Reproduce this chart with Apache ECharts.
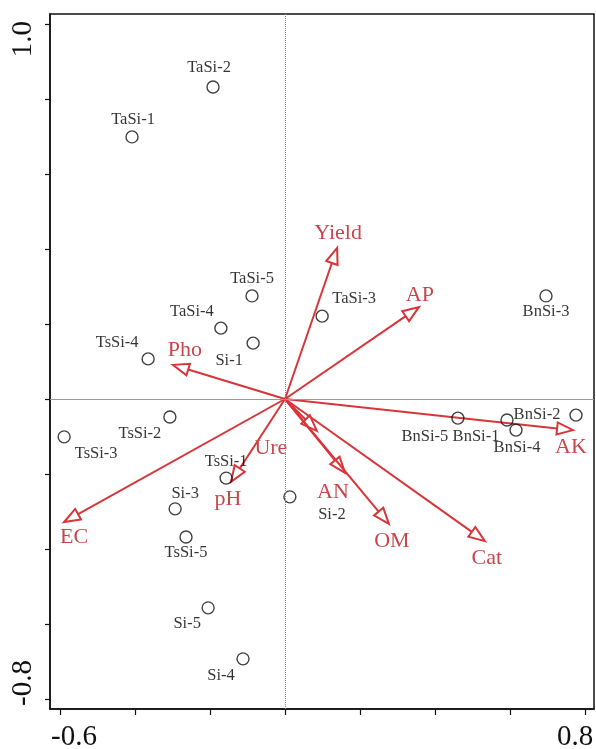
<!DOCTYPE html>
<html>
<head>
<meta charset="utf-8">
<script src="https://cdn.jsdelivr.net/npm/echarts@6/dist/echarts.min.js"></script>
<style>html,body{margin:0;padding:0;background:#fff;}#c{width:596px;height:749px;}</style>
</head>
<body>
<div id="c"></div>
<script>
// ---- data ----
const sampleNames = ['TaSi-1','TaSi-2','TaSi-3','TaSi-4','TaSi-5','TsSi-1','TsSi-2','TsSi-3','TsSi-4','TsSi-5','BnSi-1','BnSi-2','BnSi-3','BnSi-4','BnSi-5','Si-1','Si-2','Si-3','Si-4','Si-5'];
const sampleX = [-0.408,-0.192,0.099,-0.171,-0.088,-0.157,-0.307,-0.589,-0.365,-0.264,0.592,0.776,0.696,0.616,0.461,-0.085,0.013,-0.293,-0.112,-0.205];
const sampleY = [0.699,0.832,0.221,0.189,0.275,-0.211,-0.048,-0.101,0.107,-0.368,-0.056,-0.043,0.275,-0.083,-0.051,0.149,-0.261,-0.293,-0.693,-0.557];

const envNames = ['Yield','AP','AK','Pho','EC','pH','Ure','AN','OM','Cat'];
const envX = [0.139,0.357,0.768,-0.299,-0.589,-0.144,0.085,0.160,0.277,0.533];
const envY = [0.403,0.245,-0.083,0.091,-0.328,-0.221,-0.085,-0.197,-0.333,-0.379];

const xTickValues = [-0.6,-0.4,-0.2,0,0.2,0.4,0.6,0.8];
const yTickValues = [-0.8,-0.6,-0.4,-0.2,0,0.2,0.4,0.6,0.8,1.0];
const xLabelValues = [-0.6, 0.8];
const yLabelValues = [-0.8, 1.0];

// ---- label placement (style only) ----
const sampleLabelOffset = {
  'TaSi-1':[1,-17],'TaSi-2':[-4,-19],'TaSi-3':[32,-17],'TaSi-4':[-29,-16],'TaSi-5':[0,-17],
  'TsSi-1':[0,-16],'TsSi-2':[-30,17],'TsSi-3':[32,17],'TsSi-4':[-31,-16],'TsSi-5':[0,16],
  'BnSi-1':[-31,17],'BnSi-2':[-39,0],'BnSi-3':[0,16],'BnSi-4':[1,18],'BnSi-5':[-33,19],
  'Si-1':[-24,18],'Si-2':[42,18],'Si-3':[10,-15],'Si-4':[-22,17],'Si-5':[-21,16]
};
const envLabelOffset = {
  'Yield':[1,-15],'AP':[1,-12],'AK':[-2,17],'Pho':[12,-15],'EC':[10,15],
  'pH':[-3,17],'Ure':[-46,17],'AN':[-12,19],'OM':[3,17],'Cat':[2,17]
};

const SERIF = "'Liberation Serif','Times New Roman',serif";
const RED = '#d8353b';
const RED_TEXT = '#c9464c';

const chart = echarts.init(document.getElementById('c'), null, {renderer:'canvas'});

const scatterData = sampleNames.map((n,i)=>({
  value:[sampleX[i], sampleY[i], n],
  label:{offset: sampleLabelOffset[n]}
}));
const envData = envNames.map((n,i)=>[envX[i], envY[i], n]);

function fmtX(v){
  if (Math.abs(v+0.6)<1e-6) return '{l|-0.6}';
  if (Math.abs(v-0.8)<1e-6) return '{r|0.8}';
  return '';
}
function fmtY(v){
  if (Math.abs(v-1.0)<1e-6) return '{t|1.0}';
  if (Math.abs(v+0.8)<1e-6) return '{b|-0.8}';
  return '';
}
const bigFont = {fontFamily:SERIF, fontSize:29, color:'#111'};

chart.setOption({
  animation:false,
  backgroundColor:'#fff',
  grid:{left:50, top:14, right:2, bottom:40, show:true, borderColor:'#111', borderWidth:1.5,
    backgroundColor:'transparent', containLabel:false, outerBoundsMode:'none'},
  xAxis:{
    type:'value', min:-0.6267, max:0.824,
    splitLine:{show:false},
    axisLine:{show:true, onZero:false, lineStyle:{color:'#111', width:1.5}},
    axisTick:{show:true, customValues:xTickValues, length:6, lineStyle:{color:'#111', width:1.2}},
    axisLabel:{show:true, customValues:xLabelValues, margin:14, formatter:fmtX,
      rich:{l:Object.assign({padding:[0,0,0,28]},bigFont), r:Object.assign({padding:[0,20,0,0]},bigFont)}}
  },
  yAxis:{
    type:'value', min:-0.8267, max:1.0267,
    splitLine:{show:false},
    axisLine:{show:true, onZero:false, lineStyle:{color:'#111', width:1.5}},
    axisTick:{show:true, customValues:yTickValues, length:5, lineStyle:{color:'#111', width:1.2}},
    axisLabel:{show:true, customValues:yLabelValues, rotate:90, margin:12, formatter:fmtY,
      rich:{t:Object.assign({padding:[0,30,0,0]},bigFont), b:Object.assign({padding:[0,0,0,32]},bigFont)}}
  },
  series:[
    {
      type:'custom',
      z:3,
      data:envData,
      renderItem:function(params, api){
        const o = api.coord([0,0]);
        const t = api.coord([api.value(0), api.value(1)]);
        const name = envNames[params.dataIndex];
        const dx = t[0]-o[0], dy = t[1]-o[1];
        const len = Math.sqrt(dx*dx+dy*dy);
        const ux = dx/len, uy = dy/len;
        const hl = Math.min(16, len*0.45), hw = 6;
        const bx = t[0]-ux*hl, by = t[1]-uy*hl;
        const nx = -uy, ny = ux;
        const off = envLabelOffset[name] || [0,0];
        return {
          type:'group',
          children:[
            {type:'line', shape:{x1:o[0], y1:o[1], x2:bx, y2:by}, style:{stroke:RED, lineWidth:2}},
            {type:'polygon', shape:{points:[[t[0],t[1]],[bx+nx*hw, by+ny*hw],[bx-nx*hw, by-ny*hw]]},
              style:{fill:'#fff', stroke:RED, lineWidth:2}},
            {type:'text', x:t[0]+off[0], y:t[1]+off[1],
              style:{text:name, fill:RED_TEXT, font:'22px '+SERIF, align:'center', verticalAlign:'middle'}}
          ]
        };
      }
    },
    {
      type:'scatter',
      z:4,
      symbol:'circle',
      symbolSize:12,
      itemStyle:{color:'rgba(255,255,255,0)', borderColor:'#111', borderWidth:1.4},
      label:{show:true, position:'inside', formatter:function(p){return p.value[2];},
        color:'#000', fontFamily:SERIF, fontSize:16.5, align:'center', verticalAlign:'middle'},
      emphasis:{disabled:true},
      data:scatterData,
      markLine:{
        silent:true, symbol:'none', animation:false,
        label:{show:false},
        data:[
          {xAxis:0, lineStyle:{color:'#888', width:1, type:'dotted'}},
          {yAxis:0, lineStyle:{color:'#999', width:1, type:'solid'}}
        ]
      }
    }
  ]
});
</script>
</body>
</html>
